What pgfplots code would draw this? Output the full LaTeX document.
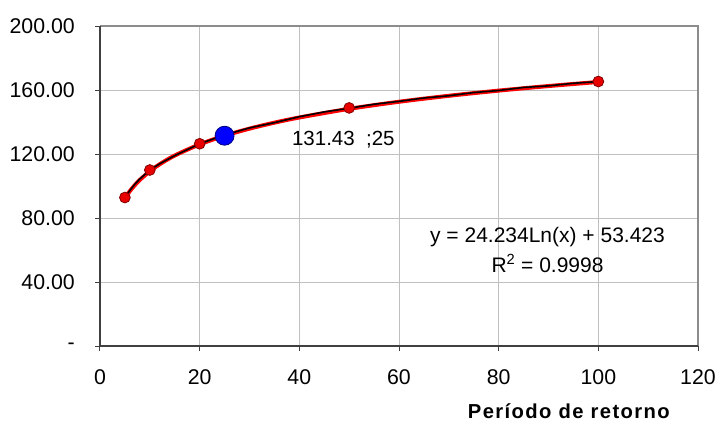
\documentclass[border=0pt]{standalone}
\usepackage{pgfplots}
\pgfplotsset{compat=1.18}
\usepackage{fontspec}
\setmainfont{Liberation Sans}
\definecolor{gridc}{HTML}{C0C0C0}
\definecolor{axdark}{HTML}{404040}
\definecolor{axlight}{HTML}{8C8C8C}
\definecolor{ptred}{HTML}{E80000}
\definecolor{ptedge}{HTML}{800000}
\definecolor{bluept}{HTML}{0000FF}
\definecolor{blueedge}{HTML}{000080}
\begin{document}
\begin{tikzpicture}
\begin{axis}[
  scale only axis,
  width=598pt, height=320pt,
  xmin=0, xmax=120, ymin=0, ymax=200,
  xtick={0,20,40,60,80,100,120},
  ytick={0,40,80,120,160,200},
  yticklabels={-,40.00,80.00,120.00,160.00,200.00},
  /pgf/number format/assume math mode=true,
  tick pos=left,
  tick align=outside,
  major tick length=5pt,
  tick style={axdark, line width=1pt},
  grid=major,
  major grid style={gridc, line width=0.9pt},
  axis line style={draw=none},
  ticklabel style={font=\fontsize{21.3}{25}\selectfont, inner sep=0pt},
  yticklabel style={anchor=east, xshift=-20pt},
  xticklabel style={anchor=north, yshift=-18pt},
  xlabel={\addfontfeature{LetterSpace=7}Período de retorno},
  xlabel style={font=\fontsize{20.2}{22}\selectfont\bfseries, at={(rel axis cs:0.784,0)}, anchor=base, yshift=-72pt, inner sep=0pt},
  clip=false,
]
% trend line
\addplot[red, line width=4pt, smooth] coordinates {
 (5,92.43) (6,96.85) (7,100.58) (8,103.82) (10,109.22) (12,113.64) (15,119.05)
 (20,126.02) (25,131.43) (30,135.85) (35,139.58) (40,142.82) (50,148.23)
 (60,152.65) (70,156.38) (80,159.62) (90,162.47) (100,165.02)};
% data curve
\addplot[black, line width=1.6pt] coordinates {
 (5,92.8) (6,97.2) (7,101.2) (8,104.4) (10,110.0) (12,113.9) (15,119.0)
 (20,126.4) (25,131.9) (30,136.3) (35,139.6) (40,143.3) (45,146.3) (50,148.6)
 (55,151.1) (60,152.9) (65,155.0) (70,156.4) (75,158.4) (80,159.7) (85,161.6)
 (90,162.6) (95,164.2) (100,165.3)};
% data points
\addplot[only marks, mark=*, mark size=5.4pt, mark options={fill=ptred, draw=ptedge, line width=0.8pt}] coordinates {
 (5,92.8) (10,110.0) (20,126.4) (50,148.8) (100,165.3)};
% highlighted point
\addplot[only marks, mark=*, mark size=9.5pt, mark options={fill=bluept, draw=blueedge, line width=0.8pt}] coordinates {(25,131.43)};
% borders
\draw[axlight, line width=1.5pt] (rel axis cs:0,1) -- (rel axis cs:1,1) -- (rel axis cs:1,0);
\draw[axdark, line width=1.8pt] (rel axis cs:0,1) -- (rel axis cs:0,0) -- (rel axis cs:1,0);
\node[anchor=base west, inner sep=0pt, font=\fontsize{20.5}{24}\selectfont] at (axis cs:38.5,125.6) {131.43\ \ ;25};
\node[align=center, inner sep=0pt, font=\fontsize{21}{30}\selectfont] at (axis cs:89.8,60) {y = 24.234Ln(x) + 53.423\\R\textsuperscript{2} = 0.9998};
\end{axis}
\pgfresetboundingbox
\path ([xshift=-100pt,yshift=-75pt]current axis.south west) rectangle ([xshift=20pt,yshift=26pt]current axis.north east);
\end{tikzpicture}
\end{document}
